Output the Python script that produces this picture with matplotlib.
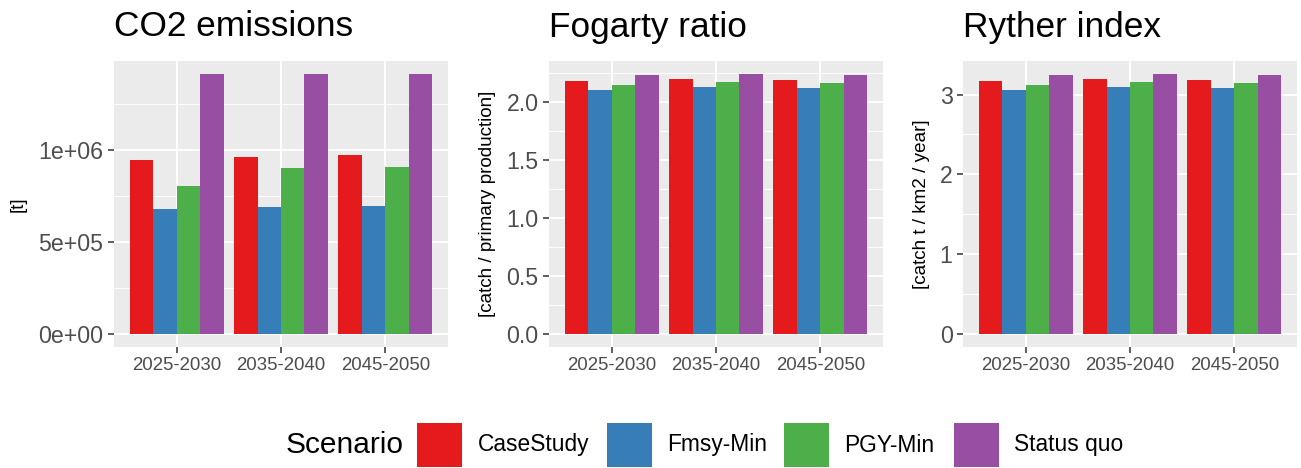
import matplotlib.pyplot as plt
from matplotlib.patches import Rectangle
import numpy as np

plt.rcParams['font.family'] = ['Liberation Sans', 'DejaVu Sans']

# data
periods = ['2025-2030', '2035-2040', '2045-2050']
scenarios = ['CaseStudy', 'Fmsy-Min', 'PGY-Min', 'Status quo']
colors = ['#E41A1C', '#377EB8', '#4DAF4A', '#984EA3']

co2 = [[0.944e6, 0.958e6, 0.973e6],   # CaseStudy
       [0.679e6, 0.690e6, 0.696e6],   # Fmsy-Min
       [0.800e6, 0.899e6, 0.906e6],   # PGY-Min
       [1.410e6, 1.410e6, 1.410e6]]   # Status quo
fogarty = [[2.183, 2.195, 2.192],
           [2.106, 2.126, 2.120],
           [2.146, 2.175, 2.166],
           [2.232, 2.240, 2.229]]
ryther = [[3.175, 3.192, 3.188],
          [3.059, 3.092, 3.084],
          [3.121, 3.163, 3.150],
          [3.246, 3.258, 3.242]]

titles = ['CO2 emissions', 'Fogarty ratio', 'Ryther index']
ylabels = ['[t]', '[catch / primary production]', '[catch t / km2 / year]']
yticks = [[0, 5e5, 1e6], [0, 0.5, 1.0, 1.5, 2.0], [0, 1, 2, 3]]
yticklabels = [['0e+00', '5e+05', '1e+06'],
               ['0.0', '0.5', '1.0', '1.5', '2.0'],
               ['0', '1', '2', '3']]
yminor = [[2.5e5, 7.5e5, 1.25e6], [0.25, 0.75, 1.25, 1.75, 2.25], [0.5, 1.5, 2.5]]

W, H = 1301, 468
fig = plt.figure(figsize=(W / 100, H / 100), dpi=100)


def fx(px):
    return px / W


def fy(py):
    return 1 - py / H


panel_left = [114, 549, 963]
panel_top, panel_bot, panel_w = 61, 347, 334
ylabel_x = [18, 487, 922]

for k, data in enumerate([co2, fogarty, ryther]):
    ax = fig.add_axes([fx(panel_left[k]), fy(panel_bot), fx(panel_w),
                       (panel_bot - panel_top) / H])
    ax.set_facecolor('#EBEBEB')
    for s in ax.spines.values():
        s.set_visible(False)
    x = np.arange(1, len(periods) + 1)
    bw = 0.9 / len(scenarios)
    for i, vals in enumerate(data):
        ax.bar(x - 0.45 + bw * (i + 0.5), vals, width=bw, color=colors[i],
               linewidth=0, zorder=3)
    top = max(max(v) for v in data)
    ax.set_ylim(-0.05 * top, 1.05 * top)
    ax.set_xlim(0.4, 3.6)
    ax.set_xticks(x)
    ax.set_xticklabels(periods, fontsize=13.4, color='#4D4D4D')
    ax.set_yticks(yticks[k])
    ax.set_yticklabels(yticklabels[k], fontsize=16.7, color='#4D4D4D')
    ax.set_yticks(yminor[k], minor=True)
    ax.tick_params(axis='both', which='major', length=4, width=1.1,
                   color='#333333', pad=3.5)
    ax.tick_params(axis='y', which='minor', length=0)
    ax.grid(True, which='major', color='white', linewidth=1.4, zorder=0)
    ax.grid(True, which='minor', axis='y', color='white', linewidth=0.7, zorder=0)
    ax.set_axisbelow(True)
    fig.text(fx(panel_left[k]), fy(27), titles[k], fontsize=25.4,
             ha='left', va='center')
    fig.text(fx(ylabel_x[k]), fy((panel_top + panel_bot) / 2), ylabels[k],
             fontsize=13.6, rotation=90, ha='center', va='center')

# legend drawn at the bottom
fig.text(fx(286), fy(445), 'Scenario', fontsize=21.5, ha='left', va='center')
key_x = [417, 607, 784, 954]
for i, name in enumerate(scenarios):
    fig.add_artist(Rectangle((fx(key_x[i]), fy(467)), fx(45), 44 / H,
                             transform=fig.transFigure, color=colors[i],
                             linewidth=0))
    fig.text(fx(key_x[i] + 60.5), fy(445), name, fontsize=16.4,
             ha='left', va='center')

fig.savefig('out.png', dpi=100)
